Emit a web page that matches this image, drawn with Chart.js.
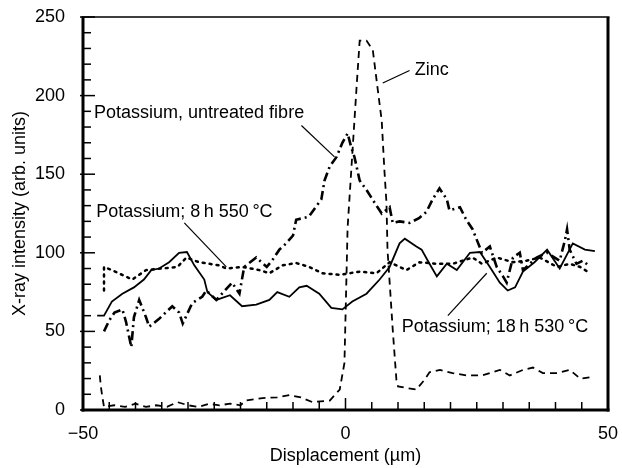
<!DOCTYPE html>
<html>
<head>
<meta charset="utf-8">
<script src="https://cdn.jsdelivr.net/npm/chart.js@4.4.1/dist/chart.umd.min.js"></script>
<style>
  html, body { margin: 0; padding: 0; background: #fff; }
  #wrap { width: 622px; height: 468px; }
</style>
</head>
<body>
<div id="wrap"><canvas id="chart" width="622" height="468"></canvas></div>
<script>
// Zinc (dashed)
const zincX = [-46.8, -46.6, -46.3, -46, -44, -42, -40, -38, -36, -34, -32, -30, -28, -26, -24, -22, -20, -19, -15.8, -13, -10.7, -8.5, -6.3, -3, -1.1, -0.2, 0.4, 1.3, 2.1, 2.7, 4, 5.2, 6.1, 6.9, 7.4, 7.8, 8, 9, 9.7, 10, 11.6, 13.5, 15, 16, 18, 20.4, 23, 26, 29.4, 31.3, 33.8, 35.7, 37.6, 40.3, 42.7, 44.7, 47.1];
const zincY = [22, 15, 8, 2, 3, 2, 4, 2, 3, 2, 5, 3, 2, 4, 3, 4, 3, 6, 7.6, 8, 9.5, 8, 5, 6, 13, 30, 116, 163, 205, 235, 235, 229, 205, 184, 153, 132, 102, 51, 19, 15, 14, 13, 19, 24, 25.5, 23.5, 22, 22, 25.5, 22, 25.5, 27, 23.5, 23.5, 25.5, 20, 21];

// Potassium, untreated fibre (dash-dot)
const untreatedX = [-46, -45, -44, -42.5, -41.8, -40.8, -40.3, -39.3, -38, -37.4, -35.5, -33, -31.7, -31, -29.2, -27.3, -26.5, -24.6, -21.6, -20.2, -19.3, -17, -15, -14, -12.6, -11.3, -10, -9.4, -7, -4.6, -4, -3, -1.7, -0.6, 0.4, 1.1, 1.7, 2.7, 4, 5.9, 6.9, 8.4, 9, 10.3, 12.2, 14, 15.4, 16.6, 17.9, 19.3, 19.8, 21.8, 23, 24.2, 26, 27.5, 28.8, 30, 30.7, 31.9, 33.2, 33.8, 36.4, 38.4, 40.8, 41.8, 42.2, 42.7, 44, 45.2, 46.6];
const untreatedY = [50, 57, 62, 64, 56, 40, 59, 70, 59, 53, 58, 66, 62, 55, 68, 72, 76, 70, 81, 74, 91, 97, 91, 95, 102, 106, 111, 121, 123, 134, 146, 155, 161, 170, 176, 167, 161, 146, 140, 130, 125, 129, 119, 120, 119, 122, 126, 134, 141, 134, 127, 129, 121, 115, 100, 104, 91, 85, 81, 97, 100, 89, 97, 100, 95, 108, 115, 102, 93, 95, 91];

// Potassium; 8 h 550 °C (dotted)
const k550X = [-46, -46, -44.5, -40.6, -38, -32, -30.3, -27.9, -24, -22.7, -19.7, -16.4, -14.5, -12, -9.4, -6.9, -4.4, -1.1, 2.7, 5.9, 8.4, 11.6, 14.1, 17.4, 20.4, 24.2, 26, 28.8, 31.9, 34.5, 37, 40.3, 42.7, 44.7, 46.6];
const k550Y = [76, 91, 89, 83, 89, 91, 97, 94, 92, 90, 91, 89, 87, 92, 93.5, 91, 87, 86, 88, 87, 94, 89, 94, 93, 93, 97, 93, 97, 94, 95, 97, 91, 93, 91, 87];

// Potassium; 18 h 530 °C (solid)
const k530X = [-47.3, -46, -44.5, -42.5, -40.3, -38.4, -37, -35.5, -33.6, -31.7, -30.2, -28.8, -26.9, -26.3, -24.6, -22, -19.7, -17, -14.5, -13, -10.7, -8.8, -7.4, -5, -2.7, -0.6, 1.3, 4, 6.5, 8.4, 10.3, 11.3, 13.5, 14.5, 16, 17.4, 19.3, 21.2, 23.7, 25.6, 27.5, 29.4, 30.9, 32.3, 33.8, 36, 38.4, 40.8, 43.3, 45.6, 47.5];
const k530Y = [60, 60, 69, 74, 78, 83, 89, 90, 94, 100, 100.5, 92, 83, 75, 70, 73, 66, 67, 70, 75, 72, 78, 79, 74, 65, 64, 69, 74, 83, 91, 106, 109, 104, 102, 93, 85, 93, 89, 100, 100.5, 91, 81, 76, 78, 88, 94, 102, 90, 106, 102, 101];

const xTickLabels = [-50, 0, 50];
const yTickLabels = [0, 50, 100, 150, 200, 250];

// labels with leader lines, in data units
const notes = [
  { text: 'Potassium, untreated fibre', at: [-47.9, 189], from: [-8.4, 181], to: [-2.1, 161] },
  { text: 'Zinc', at: [13.2, 216], from: [12.2, 216], to: [7.1, 208] },
  { text: 'Potassium; 8\u2009h 550\u2009\u00b0C', at: [-47.5, 126], from: [-30.7, 119], to: [-22.7, 91] },
  { text: 'Potassium; 18\u2009h 530\u2009\u00b0C', at: [10.7, 53], from: [19.5, 60], to: [26.9, 87] }
];

const toPoints = (xs, ys) => xs.map((x, i) => ({ x: x, y: ys[i] }));
const FONT = '"Liberation Sans", Arial, sans-serif';
const INK = '#000';

const framePlugin = {
  id: 'frame',
  afterDraw(chart) {
    const { ctx, chartArea: a, scales: { x, y } } = chart;
    ctx.save();
    ctx.setLineDash([]);
    ctx.fillStyle = INK;

    // frame: heavy left, bottom and right, light top
    ctx.fillRect(a.left - 1.5, a.top, 3, a.bottom - a.top + 1.5);
    ctx.fillRect(a.left - 1.5, a.bottom - 1.5, a.right - a.left + 3, 3);
    ctx.fillRect(a.right - 1.5, a.top, 3, a.bottom - a.top + 1.5);
    ctx.fillRect(a.left - 1.5, a.top - 0.75, a.right - a.left + 3, 1.5);

    // inward tick marks
    for (let v = -50; v <= 50; v += 5) {
      const px = x.getPixelForValue(v);
      const len = v % 50 === 0 ? 12 : 8;
      ctx.fillRect(px - 0.75, a.bottom - len, 1.5, len);
    }
    for (let v = 0; v <= 250; v += 10) {
      const py = y.getPixelForValue(v);
      const major = v % 50 === 0;
      const start = a.left - (major ? 3 : 0);
      ctx.fillRect(start, py - 0.75, a.left + (major ? 12 : 8) - start, 1.5);
    }

    // annotations
    ctx.fillStyle = '#000';
    ctx.font = '18px ' + FONT;
    ctx.textBaseline = 'middle';
    ctx.textAlign = 'left';
    ctx.strokeStyle = '#000';
    ctx.lineWidth = 1.2;
    notes.forEach(n => {
      ctx.fillText(n.text, x.getPixelForValue(n.at[0]), y.getPixelForValue(n.at[1]));
      ctx.beginPath();
      ctx.moveTo(x.getPixelForValue(n.from[0]), y.getPixelForValue(n.from[1]));
      ctx.lineTo(x.getPixelForValue(n.to[0]), y.getPixelForValue(n.to[1]));
      ctx.stroke();
    });
    ctx.restore();
  }
};

new Chart(document.getElementById('chart'), {
  type: 'line',
  data: {
    datasets: [
      {
        label: 'Zinc',
        data: toPoints(zincX, zincY),
        borderColor: '#000',
        borderWidth: 1.8,
        borderDash: [7, 5]
      },
      {
        label: 'Potassium, untreated fibre',
        data: toPoints(untreatedX, untreatedY),
        borderColor: '#000',
        borderWidth: 2.6,
        borderDash: [9, 4, 2, 4]
      },
      {
        label: 'Potassium; 8 h 550 °C',
        data: toPoints(k550X, k550Y),
        borderColor: '#000',
        borderWidth: 2.5,
        borderDash: [2, 5],
        borderCapStyle: 'round'
      },
      {
        label: 'Potassium; 18 h 530 °C',
        data: toPoints(k530X, k530Y),
        borderColor: '#000',
        borderWidth: 1.8
      }
    ]
  },
  options: {
    responsive: false,
    animation: false,
    layout: { padding: { top: 17, right: 14, left: 0, bottom: 0 } },
    elements: { point: { radius: 0 }, line: { tension: 0 } },
    plugins: {
      legend: { display: false },
      tooltip: { enabled: false }
    },
    scales: {
      x: {
        type: 'linear',
        min: -50,
        max: 50,
        afterFit(scale) {
          scale.height = 58;
          scale.paddingLeft = 0;
          scale.paddingRight = 0;
        },
        afterBuildTicks(scale) { scale.ticks = xTickLabels.map(v => ({ value: v })); },
        grid: { display: false },
        border: { display: false },
        ticks: {
          padding: 5,
          color: '#000',
          font: { family: FONT, size: 18 },
          maxRotation: 0,
          callback: v => (v < 0 ? '\u2212' + Math.abs(v) : String(v))
        },
        title: {
          display: true,
          text: 'Displacement (\u00b5m)',
          color: '#000',
          font: { family: FONT, size: 18 },
          padding: { top: 0, bottom: 1 }
        }
      },
      y: {
        min: 0,
        max: 250,
        afterFit(scale) {
          scale.width = 83;
          scale.paddingTop = 0;
          scale.paddingBottom = 0;
        },
        afterBuildTicks(scale) { scale.ticks = yTickLabels.map(v => ({ value: v })); },
        grid: { display: false },
        border: { display: false },
        ticks: {
          padding: 10,
          color: '#000',
          font: { family: FONT, size: 18 }
        },
        title: {
          display: true,
          text: 'X-ray intensity (arb. units)',
          color: '#000',
          font: { family: FONT, size: 18 },
          padding: { top: 9, bottom: 0 }
        }
      }
    }
  },
  plugins: [framePlugin]
});
</script>
</body>
</html>
